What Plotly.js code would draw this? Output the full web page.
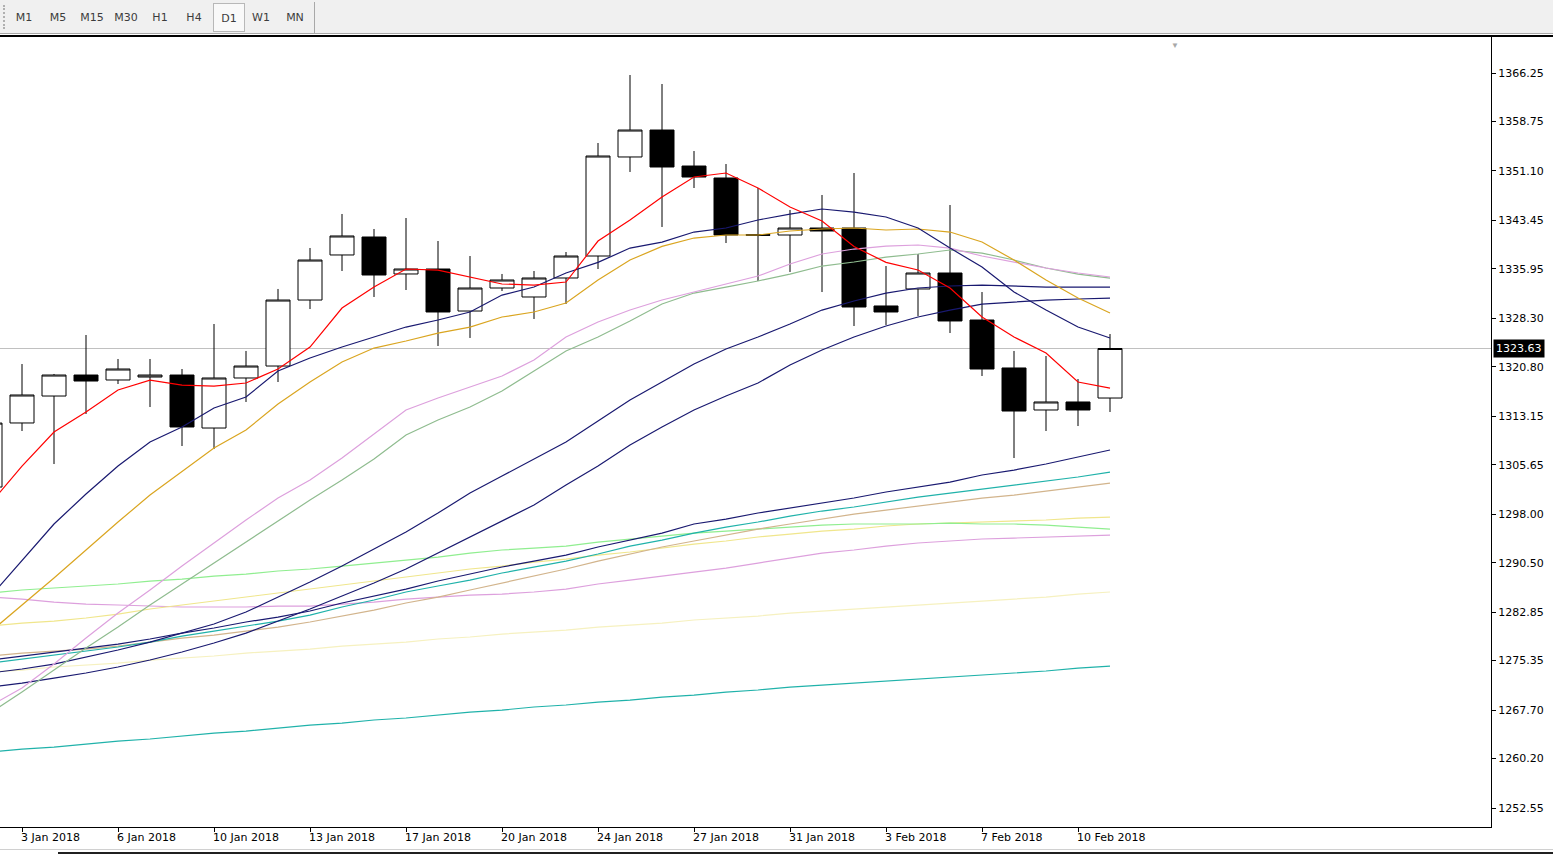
<!DOCTYPE html>
<html>
<head>
<meta charset="utf-8">
<title>XAUUSD D1</title>
<script src="https://cdn.plot.ly/plotly-3.0.1.min.js"></script>
<style>
  html, body { margin: 0; padding: 0; background: #fff; }
  body { width: 1553px; height: 855px; position: relative; overflow: hidden; font-family: "DejaVu Sans", Tahoma, sans-serif; }
  #toolbar { position: absolute; left: 0; top: 0; width: 1553px; height: 33px; background: #f0f0f0; border-bottom: 1px solid #a8a8a8; z-index: 2; }
  #toolbar .grip { position: absolute; left: 3px; top: 5px; width: 1px; height: 24px; border-left: 2px dotted #b0b0b0; }
  #toolbar .btn { position: absolute; top: 3px; height: 29px; line-height: 30px; text-align: center; font-size: 11px; color: #3c3c3c; box-sizing: border-box; }
  #toolbar .btn.on { background: #f9f9f9; border: 1px solid #b8b8b8; }
  #toolbar .sep { position: absolute; left: 314px; top: 2px; width: 1px; height: 31px; background: #a8a8a8; }
  #topline { position: absolute; left: 0; top: 35px; width: 1553px; height: 2px; background: #000; z-index: 2; }
  #tabgrey { position: absolute; left: 0; top: 849px; width: 1553px; height: 1px; background: #d0d0d0; z-index: 2; }
  #tabline { position: absolute; left: 58px; top: 852px; width: 1495px; height: 2px; background: #202020; z-index: 2; }
  #chart { position: absolute; left: 0; top: 0; width: 1553px; height: 855px; }
</style>
</head>
<body>
<div id="toolbar"><div class="grip"></div><div class="sep"></div></div>
<div id="topline"></div>
<div id="tabgrey"></div>
<div id="tabline"></div>
<div id="chart"></div>
<script>
// timeframe buttons
const periods = ['M1', 'M5', 'M15', 'M30', 'H1', 'H4', 'D1', 'W1', 'MN'];
const activePeriod = 'D1';

// daily bars, 2 Jan 2018 .. 12 Feb 2018
const dates = ['2 Jan 2018', '3 Jan 2018', '4 Jan 2018', '5 Jan 2018', '6 Jan 2018', '8 Jan 2018',
  '9 Jan 2018', '10 Jan 2018', '11 Jan 2018', '12 Jan 2018', '13 Jan 2018', '15 Jan 2018',
  '16 Jan 2018', '17 Jan 2018', '18 Jan 2018', '19 Jan 2018', '20 Jan 2018', '22 Jan 2018',
  '23 Jan 2018', '24 Jan 2018', '25 Jan 2018', '26 Jan 2018', '27 Jan 2018', '29 Jan 2018',
  '30 Jan 2018', '31 Jan 2018', '1 Feb 2018', '2 Feb 2018', '3 Feb 2018', '5 Feb 2018',
  '6 Feb 2018', '7 Feb 2018', '8 Feb 2018', '9 Feb 2018', '10 Feb 2018', '12 Feb 2018'];

const barOpen = [1302.20, 1312.11, 1316.28, 1319.53, 1318.76, 1319.22, 1319.53, 1311.33, 1319.07, 1320.92,
  1331.13, 1338.10, 1340.88, 1335.16, 1335.93, 1329.43, 1332.99, 1331.60, 1334.54, 1337.94,
  1353.26, 1357.43, 1351.86, 1350.01, 1341.25, 1341.19, 1342.27, 1342.27, 1330.21, 1332.84,
  1335.31, 1328.04, 1320.62, 1314.12, 1315.36, 1315.97];
const barHigh = [1313.00, 1321.23, 1319.69, 1325.72, 1322.01, 1322.01, 1320.46, 1327.42, 1323.25, 1332.84,
  1339.18, 1344.44, 1342.12, 1343.82, 1340.26, 1337.94, 1335.16, 1335.62, 1338.56, 1355.42,
  1365.94, 1364.55, 1354.18, 1352.17, 1348.46, 1345.06, 1347.38, 1350.78, 1336.39, 1338.25,
  1345.83, 1332.37, 1323.25, 1322.47, 1318.91, 1325.87];
const barLow = [1300.50, 1310.87, 1305.76, 1313.50, 1318.14, 1314.58, 1308.55, 1308.08, 1315.36, 1318.45,
  1329.74, 1335.62, 1331.60, 1332.68, 1324.02, 1325.26, 1332.53, 1328.20, 1330.52, 1335.93,
  1350.94, 1342.43, 1348.46, 1339.95, 1334.07, 1335.47, 1332.37, 1327.11, 1327.27, 1328.66,
  1326.03, 1319.38, 1306.69, 1310.87, 1311.64, 1313.81];
const barClose = [1312.10, 1316.44, 1319.53, 1318.60, 1320.46, 1319.53, 1311.49, 1319.07, 1320.92, 1331.13,
  1337.32, 1341.04, 1335.00, 1335.93, 1329.28, 1332.99, 1334.23, 1334.54, 1337.94, 1353.41,
  1357.43, 1351.71, 1350.16, 1341.19, 1341.15, 1342.27, 1341.81, 1330.05, 1329.28, 1335.31,
  1327.89, 1320.46, 1313.96, 1315.36, 1314.12, 1323.63];

// moving averages
const maRed = [1299.57, 1305.45, 1310.71, 1313.80, 1317.21, 1318.75, 1317.98, 1317.82, 1318.29, 1320.46,
  1323.86, 1329.89, 1333.14, 1335.93, 1335.77, 1334.69, 1333.61, 1333.45, 1333.92, 1340.26,
  1343.51, 1347.06, 1350.16, 1350.78, 1348.46, 1345.52, 1343.35, 1339.42, 1336.95, 1335.77,
  1332.99, 1328.50, 1325.41, 1322.93, 1318.44, 1317.51];
const maNavyFast = [1285.18, 1290.91, 1296.48, 1301.12, 1305.45, 1309.16, 1311.48, 1314.42, 1316.12, 1320.15,
  1322.16, 1323.86, 1325.41, 1326.95, 1328.04, 1329.28, 1331.90, 1333.14, 1335.31, 1336.95,
  1339.17, 1340.10, 1341.65, 1342.27, 1343.51, 1344.43, 1345.21, 1344.74, 1343.97, 1342.27,
  1339.17, 1336.24, 1332.37, 1329.58, 1326.95, 1325.25];
const maOrange = [1279.77, 1283.95, 1288.12, 1292.46, 1296.79, 1300.96, 1304.65, 1308.23, 1311.02, 1315.04,
  1318.44, 1321.54, 1323.70, 1324.79, 1326.02, 1326.95, 1328.50, 1329.28, 1330.67, 1334.22,
  1337.32, 1339.42, 1340.72, 1341.19, 1341.19, 1341.81, 1342.12, 1342.27, 1341.96, 1342.12,
  1341.65, 1340.10, 1337.32, 1334.22, 1331.44, 1329.12];
const maPlumFast = [1268.32, 1271.11, 1274.82, 1278.84, 1282.71, 1286.27, 1289.98, 1293.54, 1297.10, 1300.50,
  1303.28, 1306.69, 1310.40, 1314.11, 1315.97, 1317.67, 1319.37, 1321.85, 1325.41, 1327.73,
  1329.58, 1331.13, 1332.37, 1333.61, 1334.84, 1336.70, 1338.25, 1339.02, 1339.48, 1339.64,
  1339.17, 1337.94, 1337.01, 1336.08, 1335.31, 1334.69];
const maSeaGreen = [1267.24, 1270.49, 1273.89, 1277.29, 1280.54, 1283.95, 1287.20, 1290.44, 1293.69, 1296.94,
  1300.19, 1303.28, 1306.53, 1310.24, 1312.57, 1314.58, 1317.05, 1320.15, 1323.24, 1325.41,
  1327.88, 1330.52, 1332.21, 1333.14, 1334.07, 1335.15, 1336.39, 1337.01, 1337.78, 1338.25,
  1338.87, 1338.40, 1337.32, 1336.08, 1335.15, 1334.53];
const maNavyMid1 = [1273.43, 1274.05, 1274.82, 1275.90, 1276.99, 1278.22, 1279.61, 1281.01, 1282.86, 1285.18,
  1287.50, 1289.98, 1292.61, 1295.24, 1298.18, 1301.27, 1303.90, 1306.53, 1309.16, 1312.41,
  1315.66, 1318.44, 1321.23, 1323.55, 1325.41, 1327.42, 1329.58, 1330.98, 1332.21, 1332.99,
  1333.30, 1333.45, 1333.30, 1333.14, 1333.14, 1333.14];
const maNavyMid2 = [1271.26, 1271.88, 1272.65, 1273.43, 1274.36, 1275.44, 1276.68, 1278.07, 1279.61, 1281.47,
  1283.33, 1285.34, 1287.35, 1289.52, 1291.99, 1294.47, 1296.94, 1299.42, 1302.51, 1305.45,
  1308.70, 1311.48, 1314.11, 1316.28, 1318.29, 1321.08, 1323.40, 1325.41, 1327.11, 1328.50,
  1329.58, 1330.51, 1330.82, 1331.13, 1331.29, 1331.44];
const maNavySlow = [1275.44, 1276.06, 1276.68, 1277.29, 1277.91, 1278.69, 1279.61, 1280.39, 1281.32, 1282.09,
  1283.02, 1284.26, 1285.34, 1286.42, 1287.66, 1288.74, 1289.83, 1290.75, 1291.68, 1292.92,
  1294.00, 1295.08, 1296.48, 1297.25, 1298.18, 1298.95, 1299.73, 1300.50, 1301.43, 1302.20,
  1302.97, 1304.06, 1304.83, 1305.76, 1306.84, 1307.93];
const maTeal = [1274.97, 1275.59, 1276.21, 1276.83, 1277.45, 1278.22, 1279.15, 1279.92, 1280.70, 1281.47,
  1282.40, 1283.64, 1284.72, 1285.96, 1286.89, 1287.81, 1288.90, 1289.83, 1290.75, 1291.84,
  1293.07, 1294.00, 1295.08, 1296.01, 1296.79, 1297.71, 1298.49, 1299.11, 1299.88, 1300.65,
  1301.27, 1301.89, 1302.51, 1303.13, 1303.75, 1304.52];
const maTan = [1276.06, 1276.52, 1276.83, 1277.14, 1277.60, 1278.22, 1278.84, 1279.30, 1279.92, 1280.54,
  1281.32, 1282.24, 1283.17, 1284.26, 1285.18, 1286.27, 1287.35, 1288.43, 1289.52, 1290.75,
  1291.84, 1292.92, 1293.85, 1294.77, 1295.70, 1296.48, 1297.25, 1298.02, 1298.64, 1299.26,
  1299.88, 1300.50, 1300.96, 1301.58, 1302.20, 1302.82];
const maLightGreen = [1285.80, 1286.27, 1286.58, 1286.89, 1287.20, 1287.66, 1287.97, 1288.43, 1288.74, 1289.21,
  1289.52, 1289.98, 1290.44, 1290.91, 1291.37, 1291.99, 1292.46, 1292.76, 1293.07, 1293.69,
  1294.16, 1294.62, 1295.08, 1295.39, 1295.70, 1296.01, 1296.32, 1296.48, 1296.48, 1296.48,
  1296.63, 1296.48, 1296.48, 1296.32, 1296.01, 1295.70];
const maKhaki = [1280.70, 1281.16, 1281.47, 1281.94, 1282.55, 1283.33, 1283.95, 1284.57, 1285.18, 1285.80,
  1286.42, 1287.04, 1287.66, 1288.28, 1288.90, 1289.52, 1289.98, 1290.60, 1291.06, 1291.68,
  1292.15, 1292.76, 1293.38, 1293.85, 1294.47, 1294.93, 1295.39, 1295.70, 1296.17, 1296.48,
  1296.63, 1296.79, 1296.94, 1297.10, 1297.40, 1297.56];
const maPlumSlow = [1285.18, 1284.87, 1284.41, 1284.10, 1283.95, 1283.79, 1283.64, 1283.64, 1283.64, 1283.79,
  1283.79, 1284.10, 1284.41, 1284.87, 1285.18, 1285.49, 1285.65, 1285.96, 1286.42, 1287.20,
  1287.81, 1288.43, 1289.05, 1289.67, 1290.44, 1291.22, 1291.99, 1292.46, 1293.07, 1293.54,
  1293.85, 1294.16, 1294.31, 1294.47, 1294.62, 1294.77];
const maPaleYellow = [1273.58, 1273.89, 1274.36, 1274.67, 1274.97, 1275.44, 1275.75, 1276.06, 1276.52, 1276.83,
  1277.14, 1277.60, 1277.91, 1278.22, 1278.69, 1279.00, 1279.46, 1279.77, 1280.08, 1280.54,
  1280.85, 1281.16, 1281.63, 1281.94, 1282.24, 1282.71, 1283.02, 1283.33, 1283.64, 1283.95,
  1284.26, 1284.57, 1284.87, 1285.18, 1285.65, 1285.96];
const maTealSlow = [1261.21, 1261.67, 1261.98, 1262.44, 1262.91, 1263.22, 1263.68, 1264.14, 1264.45, 1264.92,
  1265.38, 1265.69, 1266.16, 1266.47, 1266.93, 1267.39, 1267.70, 1268.17, 1268.48, 1268.94,
  1269.25, 1269.71, 1270.02, 1270.49, 1270.80, 1271.26, 1271.57, 1271.88, 1272.19, 1272.50,
  1272.81, 1273.12, 1273.43, 1273.74, 1274.20, 1274.51];

// axis labels
const labelBars = [1, 4, 7, 10, 13, 16, 19, 22, 25, 28, 31, 34];
const priceTicks = [1366.25, 1358.75, 1351.10, 1343.45, 1335.95, 1328.30, 1320.80, 1313.15,
  1305.65, 1298.00, 1290.50, 1282.85, 1275.35, 1267.70, 1260.20, 1252.55];

// toolbar
const toolbar = document.getElementById('toolbar');
periods.forEach((p, i) => {
  const b = document.createElement('div');
  b.className = 'btn' + (p === activePeriod ? ' on' : '');
  b.textContent = p;
  const left = p === activePeriod ? 213 : 7 + i * 34 - (i > 6 ? 1 : 0);
  b.style.left = left + 'px';
  b.style.width = (p === activePeriod ? 32 : 34) + 'px';
  toolbar.appendChild(b);
});

const idx = dates.map((d, i) => i);
const lastPrice = barClose[barClose.length - 1];

const lines = [
  [maTealSlow, '#20b2aa'],
  [maPaleYellow, '#f6f1c0'],
  [maPlumSlow, '#dda0dd'],
  [maKhaki, '#f0e68c'],
  [maLightGreen, '#90ee90'],
  [maTan, '#d2b48c'],
  [maTeal, '#20b2aa'],
  [maNavySlow, '#191970'],
  [maNavyMid2, '#191970'],
  [maNavyMid1, '#191970'],
  [maSeaGreen, '#8fbc8f'],
  [maPlumFast, '#dda0dd'],
  [maOrange, '#daa520'],
  [maNavyFast, '#191970'],
  [maRed, '#ff0000']
];

const candles = {
  type: 'candlestick',
  x: idx,
  open: barOpen,
  high: barHigh,
  low: barLow,
  close: barClose,
  whiskerwidth: 0,
  increasing: { line: { color: '#000000', width: 1 }, fillcolor: '#ffffff' },
  decreasing: { line: { color: '#000000', width: 1 }, fillcolor: '#000000' },
  hoverinfo: 'skip'
};

const traces = [candles].concat(lines.map(([vals, color]) => ({
  type: 'scatter',
  mode: 'lines',
  x: idx,
  y: vals,
  line: { color: color, width: 1.2 },
  hoverinfo: 'skip'
})));

const tickFont = { family: 'DejaVu Sans, Tahoma, sans-serif', size: 11, color: '#000' };

const layout = {
  width: 1553,
  height: 855,
  margin: { l: 0, r: 62, t: 37, b: 28, pad: 0 },
  paper_bgcolor: '#ffffff',
  plot_bgcolor: '#ffffff',
  showlegend: false,
  boxgap: 0.25,
  boxgroupgap: 0,
  xaxis: {
    type: 'linear',
    range: [0.3125, 46.906],
    showgrid: false,
    zeroline: false,
    showline: true,
    linecolor: '#000',
    linewidth: 1,
    ticks: 'outside',
    ticklen: 4,
    tickcolor: '#000',
    tickvals: labelBars,
    ticktext: labelBars.map(i => dates[i]),
    ticklabelposition: 'outside right',
    ticklabelshift: -2,
    tickfont: tickFont,
    rangeslider: { visible: false },
    fixedrange: true
  },
  yaxis: {
    side: 'right',
    range: [1249.61, 1371.82],
    showgrid: false,
    zeroline: false,
    showline: true,
    linecolor: '#000',
    linewidth: 1,
    ticks: 'outside',
    ticklen: 4,
    tickcolor: '#000',
    tickvals: priceTicks,
    tickformat: '.2f',
    tickfont: tickFont,
    fixedrange: true
  },
  shapes: [
    {
      type: 'line', xref: 'paper', x0: 0, x1: 1, yref: 'y', y0: lastPrice, y1: lastPrice,
      line: { color: '#c0c0c0', width: 1 }, layer: 'below'
    }
  ],
  annotations: [
    {
      xref: 'paper', x: 1, xanchor: 'left', xshift: 2,
      yref: 'y', y: lastPrice, yanchor: 'middle',
      text: lastPrice.toFixed(2),
      font: { family: 'DejaVu Sans, Tahoma, sans-serif', size: 11, color: '#ffffff' },
      bgcolor: '#000000', borderpad: 2, showarrow: false
    },
    {
      xref: 'paper', x: 1175 / 1491, xanchor: 'center',
      yref: 'paper', y: 1, yanchor: 'top',
      text: '\u25BC', font: { size: 8, color: '#a8a8a8' }, showarrow: false
    }
  ]
};

Plotly.newPlot('chart', traces, layout, { staticPlot: true, displayModeBar: false });
</script>
</body>
</html>
